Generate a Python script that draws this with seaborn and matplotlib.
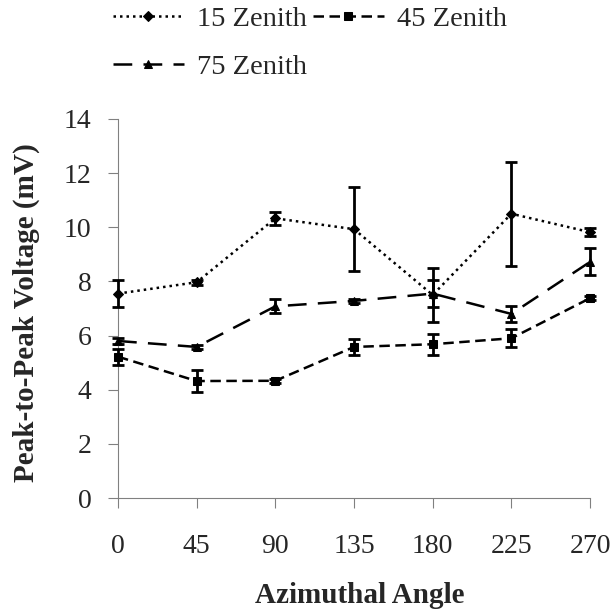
import numpy as np
import pandas as pd
import matplotlib
matplotlib.use("Agg")
import matplotlib.pyplot as plt
import seaborn as sns

# Azimuthal angles (degrees) and measured peak-to-peak voltages (mV)
angles = [0, 45, 90, 135, 180, 225, 270]
series_names = ["15 Zenith", "45 Zenith", "75 Zenith"]

v15 = [7.55, 7.97, 10.33, 9.93, 7.5, 10.5, 9.82]
e15 = [0.50, 0.10, 0.25, 1.55, 1.00, 1.92, 0.15]

v45 = [5.22, 4.32, 4.33, 5.58, 5.68, 5.90, 7.38]
e45 = [0.30, 0.42, 0.08, 0.28, 0.38, 0.33, 0.08]

v75 = [5.80, 5.58, 7.08, 7.28, 7.55, 6.80, 8.72]
e75 = [0.12, 0.08, 0.26, 0.08, 0.50, 0.30, 0.50]

y_ticks = [0, 2, 4, 6, 8, 10, 12, 14]

values = {"15 Zenith": v15, "45 Zenith": v45, "75 Zenith": v75}
errors = {"15 Zenith": e15, "45 Zenith": e45, "75 Zenith": e75}

df = pd.DataFrame({
    "angle": np.tile(angles, 3),
    "voltage": np.concatenate([v15, v45, v75]),
    "series": np.repeat(series_names, len(angles)),
})

sns.set_theme(style="white")
plt.rcParams["font.family"] = ["Liberation Serif", "DejaVu Serif"]

fig = plt.figure(figsize=(6.13, 6.13), dpi=100)
ax = fig.add_axes([0.1925, 0.1876, 0.77, 0.6183])

lw = 1.8
dashes = {"15 Zenith": (1.0, 1.6), "45 Zenith": (4.2, 2.2), "75 Zenith": (7.5, 4.5)}
markers = {"15 Zenith": "D", "45 Zenith": "s", "75 Zenith": "^"}

sns.lineplot(data=df, x="angle", y="voltage", hue="series", style="series",
             palette=["black"] * 3, dashes=dashes, markers=markers,
             markersize=5.5, linewidth=lw, markeredgecolor="black",
             ax=ax, legend=True, clip_on=False)

for name in series_names:
    ax.errorbar(angles, values[name], yerr=errors[name], fmt="none",
                ecolor="black", elinewidth=2.0, capsize=4.5, capthick=2.0,
                clip_on=False, zorder=3)

ax.set_xlim(0, 270)
ax.set_ylim(0, 14)
ax.set_xticks(angles)
ax.set_yticks(y_ticks)
ax.tick_params(axis="x", direction="out", length=7, width=0.8, color="#808080",
               pad=19, labelsize=20, bottom=True)
ax.tick_params(axis="y", direction="out", length=7, width=0.8, color="#808080",
               pad=12, labelsize=20, left=True)
for side in ["top", "right"]:
    ax.spines[side].set_visible(False)
for side in ["left", "bottom"]:
    ax.spines[side].set_color("#808080")
    ax.spines[side].set_linewidth(0.8)

ax.set_xlabel("Azimuthal Angle", fontsize=21, fontweight="bold")
ax.set_ylabel("Peak-to-Peak Voltage (mV)", fontsize=21, fontweight="bold")
ax.xaxis.label.set_verticalalignment("center")
ax.xaxis.set_label_coords(0.513, -0.256)
ax.yaxis.set_label_coords(-0.165, 0.488)

# two-column legend: 15 and 45 on the first row, 75 on the second
handles, labels = ax.get_legend_handles_labels()
order = [labels.index(n) for n in ["15 Zenith", "75 Zenith", "45 Zenith"]]
leg = ax.legend([handles[i] for i in order], [labels[i] for i in order],
                ncol=2, frameon=False, fontsize=20.5,
                loc="upper left", bbox_to_anchor=(-0.035, 1.328),
                handlelength=2.5, handletextpad=0.45, columnspacing=0.2,
                labelspacing=0.78, borderaxespad=0)

fig.savefig("out.png", dpi=100, facecolor="white")
